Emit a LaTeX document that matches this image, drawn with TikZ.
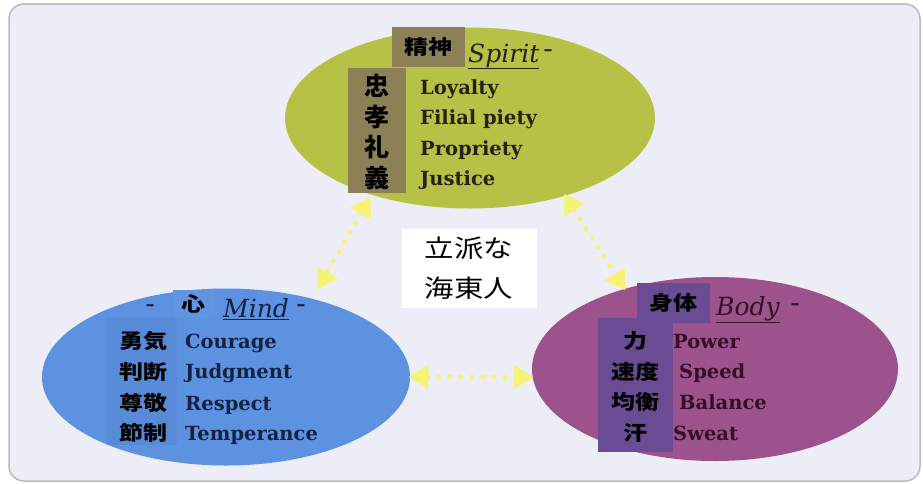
\documentclass[tikz,border=0pt]{standalone}
\usepackage{fontspec}
\usetikzlibrary{shapes.geometric,arrows.meta}
\newfontfamily\cjk[FakeStretch=1.2]{Noto Sans CJK JP}
\newfontfamily\cjkn{Noto Sans CJK JP}
\newfontfamily\lat{DejaVu Serif}
\definecolor{bgc}{RGB}{237,237,247}
\definecolor{framec}{RGB}{185,185,192}
\definecolor{spiritc}{RGB}{182,193,70}
\definecolor{khaki}{RGB}{140,128,86}
\definecolor{mindc}{RGB}{93,146,224}
\definecolor{mindbox}{RGB}{87,139,216}
\definecolor{mindhd}{RGB}{97,149,225}
\definecolor{bodyc}{RGB}{156,82,138}
\definecolor{bodybox}{RGB}{105,76,148}
\definecolor{yel}{RGB}{246,242,118}
\definecolor{spirtxt}{RGB}{36,36,14}
\definecolor{mindtxt}{RGB}{20,34,66}
\definecolor{bodytxt}{RGB}{54,14,44}
\begin{document}
\begin{tikzpicture}[x=1pt,y=-1pt,
  oval/.style={ellipse, inner sep=0pt},
  kbox/.style={inner sep=0pt, rectangle},
  eng/.style={anchor=base west, inner sep=0pt, font=\lat\bfseries\fontsize{19.5}{19.5}\selectfont},
  ttl/.style={anchor=base west, inner sep=0pt, font=\lat\itshape\fontsize{25}{25}\selectfont},
  dsh/.style={inner sep=0pt, font=\lat\bfseries\fontsize{18}{18}\selectfont},
  kan/.style={inner sep=0pt, font=\cjk\bfseries\fontsize{20}{20}\selectfont},
  kanbig/.style={inner sep=0pt, font=\cjkn\bfseries\fontsize{25}{25}\selectfont},
  yarr/.style={draw=yel, line width=5pt, line cap=round, dash pattern=on 0pt off 11pt,
    {Triangle[length=19pt,width=24pt,line width=0.5pt]}-{Triangle[length=19pt,width=24pt,line width=0.5pt]}}
]
\useasboundingbox (0,0) rectangle (923,483);
\fill[white] (0,0) rectangle (923,483);
\draw[draw=framec, line width=1.5pt, fill=bgc, rounded corners=15pt] (9,4) rectangle (920,481);

% ellipses
\node[oval, fill=spiritc, minimum width=370pt, minimum height=181pt] (spirit) at (470,118) {};
\node[oval, fill=mindc, minimum width=368pt, minimum height=177pt] (mind) at (226,377) {};
\node[oval, fill=bodyc, minimum width=366pt, minimum height=184pt] (body) at (715,369) {};

% ---- Spirit
\node[kbox, fill=khaki, minimum width=73pt, minimum height=40pt] (sph) at (428.5,47) {};
\node[kbox, fill=khaki, minimum width=58pt, minimum height=125pt] (spv) at (377,130.5) {};
\node[kan, text=black] (sphk) at (428.5,47) {精神};
\node[ttl, text=spirtxt] (spt) at (468,62) {\underline{Spirit}};
\node[dsh, text=spirtxt] (spd) at (548,53) {–};
\node[kanbig] (sk1) at (377,86) {忠};
\node[kanbig] (sk2) at (377,117) {孝};
\node[kanbig] (sk3) at (377,147) {礼};
\node[kanbig] (sk4) at (377,178) {義};
\node[eng, text=spirtxt] (se1) at (420,94) {Loyalty};
\node[eng, text=spirtxt] (se2) at (420,124) {Filial piety};
\node[eng, text=spirtxt] (se3) at (420,155) {Propriety};
\node[eng, text=spirtxt] (se4) at (420,185) {Justice};

% ---- Mind
\node[kbox, fill=mindbox, minimum width=70pt, minimum height=128pt] (mdv) at (142,381) {};
\node[kbox, fill=mindhd, minimum width=42pt, minimum height=28pt] (mdh) at (194,304) {};
\node[dsh, text=mindtxt] (mdd1) at (150,308) {–};
\node[kan, text=black] (mdk) at (193,304) {心};
\node[ttl, text=mindtxt] (mdt) at (223,317) {\underline{Mind}};
\node[dsh, text=mindtxt] (mdd2) at (301,308) {–};
\node[kan] (mk1) at (143,341) {勇気};
\node[kan] (mk2) at (143,372) {判断};
\node[kan] (mk3) at (143,403) {尊敬};
\node[kan] (mk4) at (143,433) {節制};
\node[eng, text=mindtxt] (me1) at (185,348) {Courage};
\node[eng, text=mindtxt] (me2) at (185,378) {Judgment};
\node[eng, text=mindtxt] (me3) at (185,410) {Respect};
\node[eng, text=mindtxt] (me4) at (185,440) {Temperance};

% ---- Body
\node[kbox, fill=bodybox, minimum width=73pt, minimum height=40pt] (bdh) at (673.5,303) {};
\node[kbox, fill=bodybox, minimum width=75pt, minimum height=134pt] (bdv) at (635.5,385) {};
\node[kan, text=black] (bdk) at (673.5,303) {身体};
\node[ttl, text=bodytxt] (bdt) at (716,315) {\underline{Body}};
\node[dsh, text=bodytxt] (bdd) at (795,307) {–};
\node[kan] (bk1) at (635,341) {力};
\node[kan] (bk2) at (635,372) {速度};
\node[kan] (bk3) at (635,402) {均衡};
\node[kan] (bk4) at (635,433) {汗};
\node[eng, text=bodytxt] (be1) at (673,348) {Power};
\node[eng, text=bodytxt] (be2) at (679,378) {Speed};
\node[eng, text=bodytxt] (be3) at (679,409) {Balance};
\node[eng, text=bodytxt] (be4) at (673,440) {Sweat};

% ---- centre
\node[kbox, fill=white, minimum width=135pt, minimum height=79pt] (ctr) at (469.5,268.5) {};
\node[inner sep=0pt, font=\cjk\fontsize{24.5}{24.5}\selectfont, align=center] (ctrt1) at (469,248) {立派な};
\node[inner sep=0pt, font=\cjk\fontsize{24.5}{24.5}\selectfont, align=center] (ctrt2) at (469,288) {海東人};

% ---- arrows
\coordinate (sm1) at (370,197);
\coordinate (sm2) at (318,289);
\coordinate (sb1) at (564,194);
\coordinate (sb2) at (625,290);
\coordinate (mb1) at (409,377);
\coordinate (mb2) at (533,377);
\draw[yarr] (sm1) -- (sm2);
\draw[yarr] (sb1) -- (sb2);
\draw[yarr] (mb1) -- (mb2);
\end{tikzpicture}
\end{document}
